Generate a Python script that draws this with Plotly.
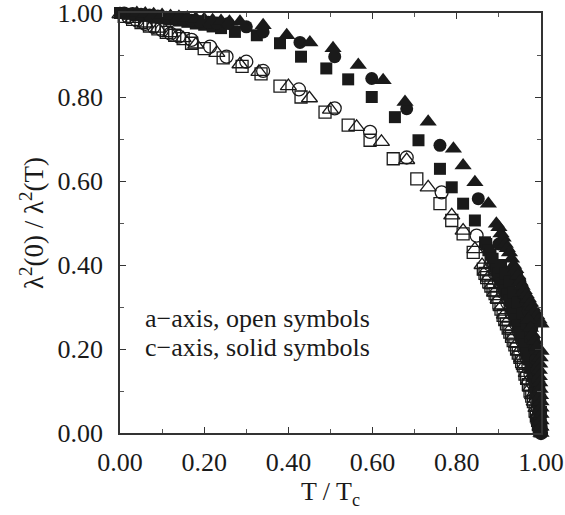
import plotly.graph_objects as go

# a-axis (open symbols)
a_sq_T = [0.01, 0.03, 0.05, 0.07, 0.09, 0.11, 0.13, 0.15, 0.17, 0.20, 0.245, 0.29, 0.335, 0.38, 0.43, 0.487,
          0.542, 0.594, 0.649, 0.705, 0.76, 0.788, 0.815, 0.839, 0.863, 0.867, 0.871, 0.876, 0.881, 0.886,
          0.891, 0.895, 0.900, 0.905, 0.910, 0.914, 0.918, 0.922, 0.926, 0.930, 0.934, 0.938, 0.942, 0.946,
          0.950, 0.954, 0.958, 0.962, 0.966, 0.970, 0.974, 0.978, 0.982, 0.986, 0.989, 0.992, 0.994, 0.996, 0.998]
a_sq_v = [0.992, 0.985, 0.977, 0.969, 0.962, 0.954, 0.947, 0.939, 0.928, 0.915, 0.893, 0.873, 0.855, 0.826, 0.80, 0.764,
          0.733, 0.697, 0.653, 0.605, 0.546, 0.506, 0.474, 0.43, 0.39, 0.38, 0.37, 0.36, 0.35, 0.34,
          0.332, 0.323, 0.31, 0.295, 0.28, 0.27, 0.26, 0.25, 0.24, 0.23, 0.22, 0.21, 0.20, 0.19,
          0.18, 0.17, 0.16, 0.14, 0.13, 0.115, 0.10, 0.088, 0.075, 0.052, 0.04, 0.03, 0.02, 0.012, 0.005]

a_ci_T = [0.02, 0.04, 0.06, 0.08, 0.10, 0.12, 0.14, 0.17, 0.214, 0.253, 0.30, 0.34, 0.425, 0.51, 0.594, 0.681,
          0.764, 0.847, 0.88, 0.89, 0.90, 0.91, 0.92, 0.93, 0.94, 0.948, 0.955, 0.96, 0.965, 0.97, 0.975,
          0.98, 0.985, 0.988, 0.992, 0.995, 0.997, 0.999, 1.0]
a_ci_v = [0.99, 0.982, 0.974, 0.967, 0.959, 0.951, 0.944, 0.936, 0.92, 0.896, 0.884, 0.862, 0.818, 0.773, 0.717, 0.656,
          0.573, 0.470, 0.40, 0.38, 0.36, 0.335, 0.31, 0.285, 0.26, 0.24, 0.22, 0.20, 0.18, 0.16, 0.14,
          0.12, 0.10, 0.08, 0.06, 0.045, 0.03, 0.015, 0.0]

a_tr_T = [0.0, 0.03, 0.06, 0.09, 0.12, 0.15, 0.18, 0.23, 0.285, 0.33, 0.40, 0.45, 0.50, 0.562, 0.621, 0.681,
          0.732, 0.788, 0.815, 0.843, 0.86, 0.868, 0.875, 0.883, 0.89, 0.898, 0.905, 0.913, 0.92, 0.928, 0.935,
          0.942, 0.948, 0.954, 0.96, 0.965, 0.97, 0.975, 0.98, 0.984, 0.988, 0.992, 0.995, 0.998]
a_tr_v = [0.997, 0.986, 0.975, 0.963, 0.952, 0.94, 0.925, 0.905, 0.878, 0.86, 0.826, 0.797, 0.77, 0.729, 0.693, 0.65,
          0.585, 0.518, 0.482, 0.438, 0.40, 0.385, 0.37, 0.352, 0.335, 0.318, 0.30, 0.282, 0.265, 0.248, 0.23,
          0.212, 0.195, 0.178, 0.16, 0.143, 0.125, 0.108, 0.09, 0.075, 0.06, 0.045, 0.03, 0.015]

# c-axis (solid symbols)
c_sq_T = [0.0, 0.02, 0.04, 0.06, 0.08, 0.10, 0.12, 0.14, 0.16, 0.18, 0.20, 0.22, 0.24, 0.273, 0.325, 0.38, 0.43,
          0.49, 0.542, 0.598, 0.653, 0.709, 0.76, 0.788, 0.815, 0.843, 0.867,
          0.87, 0.875, 0.88, 0.885, 0.89, 0.895, 0.90, 0.905, 0.91, 0.915, 0.92, 0.925, 0.93, 0.935, 0.94,
          0.945, 0.95, 0.955, 0.96, 0.965, 0.97, 0.975, 0.98, 0.985, 0.988, 0.991, 0.994, 0.997, 0.999,
          0.905, 0.915, 0.925, 0.935, 0.945, 0.955, 0.965, 0.975, 0.982, 0.988, 0.993, 0.996, 0.998, 1.0]
c_sq_v = [1.0, 0.998, 0.995, 0.993, 0.99, 0.988, 0.985, 0.982, 0.979, 0.975, 0.972, 0.968, 0.964, 0.955, 0.947, 0.928, 0.896,
          0.868, 0.842, 0.80, 0.752, 0.697, 0.629, 0.585, 0.546, 0.506, 0.454,
          0.45, 0.435, 0.425, 0.415, 0.40, 0.39, 0.38, 0.365, 0.355, 0.34, 0.33, 0.315, 0.30, 0.285, 0.27,
          0.255, 0.24, 0.225, 0.21, 0.19, 0.175, 0.155, 0.135, 0.115, 0.095, 0.075, 0.055, 0.035, 0.015,
          0.40, 0.38, 0.36, 0.335, 0.31, 0.285, 0.26, 0.23, 0.20, 0.17, 0.14, 0.11, 0.08, 0.05]

c_ci_T = [0.01, 0.03, 0.05, 0.07, 0.09, 0.11, 0.13, 0.15, 0.17, 0.19, 0.21, 0.23, 0.257, 0.30, 0.34, 0.4275, 0.51,
          0.598, 0.681, 0.760, 0.851, 0.90, 0.942, 0.95, 0.955, 0.96, 0.965, 0.97, 0.975, 0.978, 0.982, 0.985,
          0.988, 0.99, 0.993, 0.995, 0.997, 0.998, 0.999, 1.0]
c_ci_v = [1.0, 0.999, 0.997, 0.995, 0.993, 0.99, 0.988, 0.985, 0.983, 0.98, 0.978, 0.976, 0.975, 0.967, 0.955, 0.93, 0.896,
          0.844, 0.772, 0.685, 0.558, 0.45, 0.379, 0.36, 0.345, 0.33, 0.31, 0.29, 0.27, 0.25, 0.225, 0.20,
          0.175, 0.15, 0.125, 0.10, 0.075, 0.05, 0.025, 0.0]

c_tr_T = [0.0, 0.02, 0.04, 0.06, 0.08, 0.10, 0.12, 0.14, 0.16, 0.18, 0.20, 0.22, 0.24, 0.26, 0.285, 0.34, 0.396,
          0.451, 0.506, 0.566, 0.625, 0.677, 0.732, 0.792, 0.815, 0.843, 0.875, 0.894,
          0.90, 0.905, 0.91, 0.915, 0.92, 0.925, 0.93, 0.935, 0.94, 0.945, 0.95, 0.955, 0.96, 0.965, 0.97,
          0.975, 0.98, 0.985, 0.99, 0.995, 1.0, 1.003, 1.005, 1.003, 1.0, 0.998, 0.997, 0.996, 0.996, 0.997,
          0.998, 0.999, 1.0, 1.0, 1.0, 1.0, 1.0, 1.0,
          0.97, 0.975, 0.98, 0.985, 0.99]
c_tr_v = [1.005, 1.003, 1.0, 0.999, 0.997, 0.995, 0.993, 0.991, 0.989, 0.987, 0.985, 0.983, 0.981, 0.979, 0.979, 0.971, 0.947,
          0.93, 0.916, 0.876, 0.84, 0.788, 0.741, 0.677, 0.637, 0.597, 0.546, 0.498,
          0.49, 0.475, 0.465, 0.45, 0.44, 0.43, 0.415, 0.40, 0.39, 0.375, 0.36, 0.35, 0.34, 0.33, 0.32,
          0.31, 0.30, 0.29, 0.28, 0.27, 0.26, 0.24, 0.225, 0.21, 0.195, 0.18, 0.165, 0.15, 0.135, 0.12,
          0.105, 0.09, 0.075, 0.06, 0.045, 0.03, 0.015, 0.0,
          0.27, 0.25, 0.235, 0.22, 0.205]

x_ticks = [0.0, 0.2, 0.4, 0.6, 0.8, 1.0]
y_ticks = [0.0, 0.2, 0.4, 0.6, 0.8, 1.0]

INK = "#1a1a1a"
FONT = "Liberation Serif"

fig = go.Figure()

def add(T, v, symbol, size, open_):
    fig.add_trace(go.Scatter(
        x=T, y=v, mode="markers", cliponaxis=False, showlegend=False,
        marker=dict(symbol=symbol, size=size,
                    color=INK,
                    line=dict(color=INK, width=1.3 if open_ else 0)),
    ))

add(a_sq_T, a_sq_v, "square-open", 12, True)
add(a_ci_T, a_ci_v, "circle-open", 13, True)
add(a_tr_T, a_tr_v, "triangle-up-open", 14, True)
add(c_sq_T, c_sq_v, "square", 12, False)
add(c_ci_T, c_ci_v, "circle", 13, False)
add(c_tr_T, c_tr_v, "triangle-up", 15, False)

axis_common = dict(
    range=[0, 1], showgrid=False, zeroline=False, automargin=False,
    showline=True, linecolor="#333", linewidth=1.5, mirror="ticks",
    ticks="inside", ticklen=6, tickwidth=1.2, tickcolor="#333",
    tickfont=dict(family=FONT, size=26, color=INK),
    tickformat=".2f", ticklabeloverflow="allow",
    minor=dict(ticks="inside", ticklen=4, tickwidth=1, tickcolor="#555", dtick=0.1),
)

fig.update_layout(
    width=565, height=515,
    margin=dict(l=120, r=24, t=13, b=82),
    paper_bgcolor="white", plot_bgcolor="white",
    font=dict(family=FONT, color=INK),
    xaxis=dict(**axis_common, tickvals=x_ticks, ticklabelstandoff=5,
               title=dict(text="T / T<sub>c</sub>", font=dict(family=FONT, size=26, color=INK), standoff=6)),
    yaxis=dict(**axis_common, tickvals=y_ticks, ticklabelstandoff=10,
               title=dict(text="λ<sup>2</sup>(0) / λ<sup>2</sup>(T)", font=dict(family=FONT, size=27, color=INK), standoff=6)),
    annotations=[
        dict(x=0.055, y=0.272, xref="x", yref="y", xanchor="left", yanchor="middle", showarrow=False,
             text="a\u2212axis, open symbols", font=dict(family=FONT, size=26, color=INK)),
        dict(x=0.055, y=0.203, xref="x", yref="y", xanchor="left", yanchor="middle", showarrow=False,
             text="c\u2212axis, solid symbols", font=dict(family=FONT, size=26, color=INK)),
    ],
)

fig.write_html("out.html")
